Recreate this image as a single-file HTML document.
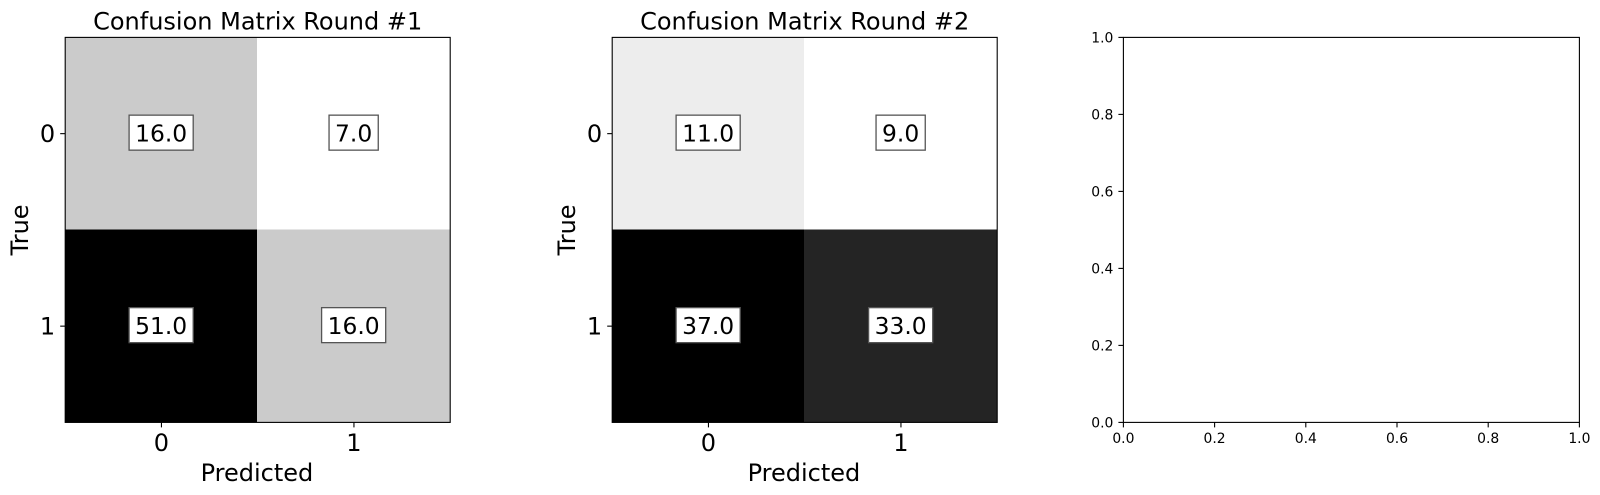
<!DOCTYPE html>
<html lang="en">
<head>
<meta charset="utf-8">
<title>Confusion Matrices</title>
<style>
html,body{margin:0;padding:0;background:#fff;width:1600px;height:495px;overflow:hidden}
svg{display:block}
text{font-family:"DejaVu Sans","Liberation Sans",sans-serif;fill:#000}
</style>
</head>
<body>
<svg id="fig" xmlns="http://www.w3.org/2000/svg" width="1600" height="495" viewBox="0 0 1600 495"></svg>
<script>
const matrixTitles = ["Confusion Matrix Round #1", "Confusion Matrix Round #2"];
const matrixRound1 = [[16, 7], [51, 16]];
const matrixRound2 = [[11, 9], [37, 33]];
const classLabels = ["0", "1"];
const xAxisTitle = "Predicted";
const yAxisTitle = "True";
const emptyTicks = [0, 0.2, 0.4, 0.6, 0.8, 1];

const NS = "http://www.w3.org/2000/svg";
const fig = document.getElementById("fig");
const AX_TOP = 37.4, AX_BOTTOM = 422.4;
const BIG = 24, VALUE = 23.4, SMALL = 13.9;
const IMG_SHIFT = 0.6;

function mk(parent, tag, attrs) {
  const e = document.createElementNS(NS, tag);
  for (const k in attrs) e.setAttribute(k, attrs[k]);
  parent.appendChild(e);
  return e;
}
function line(parent, x1, y1, x2, y2, w) {
  return mk(parent, "line", { x1: x1, y1: y1, x2: x2, y2: y2, stroke: "#000", "stroke-width": w || 1.1 });
}
function txt(parent, x, y, s, size, anchor) {
  const t = mk(parent, "text", { x: x, y: y, "font-size": size, "text-anchor": anchor || "middle" });
  t.textContent = s;
  return t;
}
function spines(parent, left, right) {
  const r = mk(parent, "rect", { x: left, y: AX_TOP, width: right - left, height: AX_BOTTOM - AX_TOP, fill: "none", stroke: "#000", "stroke-width": 1.1 });
  
  
}

function drawMatrix(matrix, title, left, idx) {
  const size = AX_BOTTOM - AX_TOP;
  const right = left + size;
  const n = matrix.length;
  const cell = size / n;
  const xCenter = i => left + i * cell + cell / 2;
  const yCenter = i => AX_TOP + i * cell + cell / 2;
  const xEdge = i => (i === 0 ? left : i === n ? right : left + i * cell - IMG_SHIFT);
  const yEdge = i => (i === 0 ? AX_TOP : i === n ? AX_BOTTOM : AX_TOP + i * cell - IMG_SHIFT);
  const flat = matrix.flat();
  const lo = Math.min(...flat), hi = Math.max(...flat);
  const shade = v => {
    const g = Math.round(255 * (1 - (v - lo) / (hi - lo)));
    return "rgb(" + g + "," + g + "," + g + ")";
  };

  const g = mk(fig, "g", {});
  
  

  matrix.forEach((row, r) => row.forEach((v, c) => {
    const rect = mk(g, "rect", { x: xEdge(c), y: yEdge(r), width: xEdge(c + 1) - xEdge(c), height: yEdge(r + 1) - yEdge(r), fill: shade(v), "shape-rendering": "crispEdges" });
    
    
  }));

  matrix.forEach((row, r) => row.forEach((v, c) => {
    const label = v.toFixed(1);
    const box = mk(g, "rect", { fill: "#fff", stroke: "#555", "stroke-width": 1.3 });
    
    
    const t = txt(g, xCenter(c) - 0.3, yCenter(r) + 7.7, label, VALUE);
    
    
    const w = t.getComputedTextLength() + 12;
    box.setAttribute("x", xCenter(c) - 0.3 - w / 2);
    box.setAttribute("y", yCenter(r) - 18.5);
    box.setAttribute("width", w);
    box.setAttribute("height", 35);
  }));

  spines(g, left, right);

  classLabels.forEach((s, i) => {
    const xt = line(g, xCenter(i), AX_BOTTOM, xCenter(i), AX_BOTTOM + 5);
    
    
    const xl = txt(g, xCenter(i), 451, s, BIG);
    
    
    const yt = line(g, left - 5, yCenter(i), left, yCenter(i));
    
    
    const yl = txt(g, left - 10, yCenter(i) + 8.1, s, BIG, "end");
    
    
  });

  const tt = txt(g, (left + right) / 2, 29.5, title, BIG);
  
  
  const xa = txt(g, (left + right) / 2 - 0.8, 481, xAxisTitle, BIG);
  
  
  const ybase = left - 37.2;
  const ya = txt(g, ybase, (AX_TOP + AX_BOTTOM) / 2, yAxisTitle, BIG);
  ya.setAttribute("transform", "rotate(-90 " + ybase + " " + (AX_TOP + AX_BOTTOM) / 2 + ")");
  
  
}

function drawEmpty(left, right) {
  const g = mk(fig, "g", {});
  
  
  const xs = v => left + v * (right - left);
  const ys = v => AX_BOTTOM - v * (AX_BOTTOM - AX_TOP);
  spines(g, left, right);
  emptyTicks.forEach(v => {
    const label = v.toFixed(1);
    const xt = line(g, xs(v), AX_BOTTOM, xs(v), AX_BOTTOM + 5);
    
    
    const xl = txt(g, xs(v), 443, label, SMALL);
    
    
    const yt = line(g, left - 5, ys(v), left, ys(v));
    
    
    const yl = txt(g, left - 10, ys(v) + 5, label, SMALL, "end");
    
    
  });
}

drawMatrix(matrixRound1, matrixTitles[0], 65.2, 1);
drawMatrix(matrixRound2, matrixTitles[1], 612.2, 2);
drawEmpty(1123.4, 1579.4);
</script>
</body>
</html>
